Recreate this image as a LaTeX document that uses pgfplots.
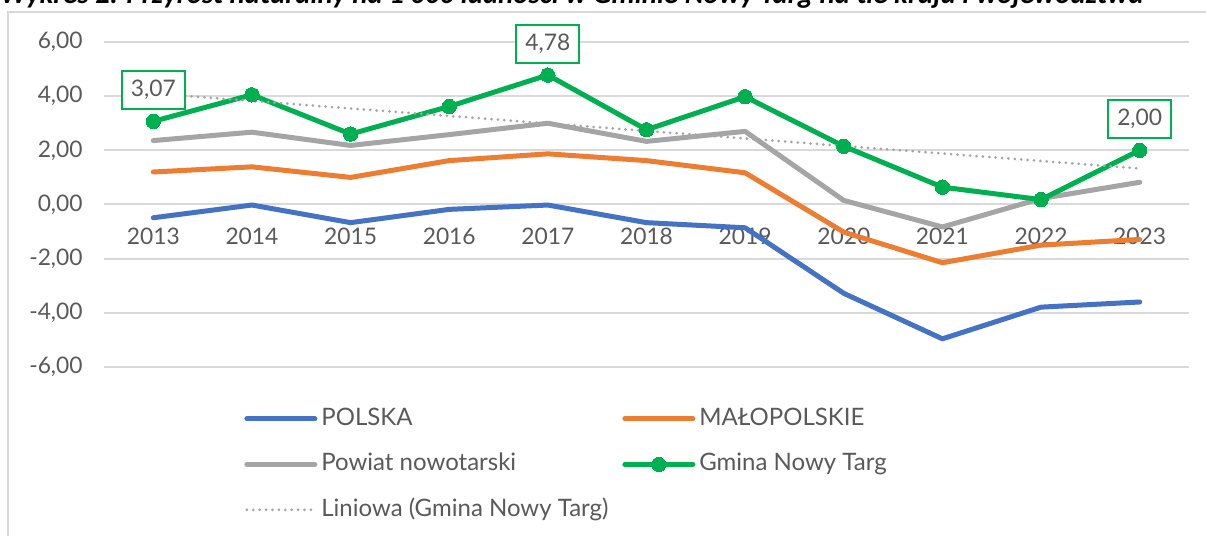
\documentclass[border=0pt]{standalone}
\usepackage{pgfplots}
\pgfplotsset{compat=1.18}
\usepackage{fontspec}
\setmainfont{Lato}
\newfontfamily\titlefont{Carlito}
\definecolor{cblue}{HTML}{4472C4}
\definecolor{corange}{HTML}{ED7D31}
\definecolor{cgray}{HTML}{A5A5A5}
\definecolor{cgreen}{HTML}{00B050}
\definecolor{gridc}{HTML}{D9D9D9}
\definecolor{txt}{HTML}{595959}
\begin{document}
\begin{tikzpicture}
\useasboundingbox (0,0) rectangle (603pt,268pt);
% title (cut off at top as in the reference)
\node[anchor=base west, inner sep=0pt, font=\titlefont\bfseries\itshape\fontsize{14.4}{16}\selectfont] at (0pt,266.4pt) {Wykres 2. Przyrost naturalny na 1 000 ludności w Gminie Nowy Targ na tle kraju i województwa};
% chart frame
\draw[gridc, line width=1pt] (4pt,0pt) -- (4pt,262pt) -- (603pt,262pt);
\begin{axis}[
  at={(52pt,84.5pt)}, anchor=south west,
  scale only axis, width=542.5pt, height=162.5pt,
  xmin=2012.5, xmax=2023.5, ymin=-6, ymax=6,
  clip=false,
  axis line style={draw=none},
  major tick length=0pt,
  ymajorgrids, grid style={gridc, line width=1pt},
  ytick={-6,-4,-2,0,2,4,6},
  /pgf/number format/fixed,
  /pgf/number format/fixed zerofill,
  /pgf/number format/precision=2,
  /pgf/number format/use comma,
  /pgf/number format/assume math mode=true,
  yticklabel style={anchor=east, inner sep=0pt, xshift=-10.5pt, font=\fontsize{11.4}{13}\selectfont, text=txt},
  xtick={2013,2014,2015,2016,2017,2018,2019,2020,2021,2022,2023},
  xticklabels={2013,2014,2015,2016,2017,2018,2019,2020,2021,2022,2023},
  xticklabel style={anchor=center, inner sep=0pt, yshift=65.5pt, font=\fontsize{11.4}{13}\selectfont, text=txt},
  legend columns=2,
  legend style={at={(0.1290,-0.1228)}, anchor=north west, draw=none, fill=none, inner sep=0pt,
    font=\fontsize{12}{14}\selectfont, text=txt, row sep=11.25pt,
    nodes={inner sep=0pt, text height=9pt, text depth=2.5pt},
    /tikz/every odd column/.append style={column sep=2pt},
    /tikz/every even column/.append style={column sep=0pt}},
  legend cell align=left,
  legend image code/.code={\draw[mark repeat=2, mark phase=2, #1] plot coordinates {(0pt,0pt)(17pt,0pt)(34pt,0pt)};},
]
\addplot[cblue, line width=2.5pt, line join=round, line cap=round] coordinates {
(2013,-0.49) (2014,-0.02) (2015,-0.67) (2016,-0.18) (2017,-0.02) (2018,-0.67) (2019,-0.86) (2020,-3.28) (2021,-4.96) (2022,-3.79) (2023,-3.60)};
\addlegendentry{\makebox[150.5pt][l]{POLSKA}}
\addplot[corange, line width=2.5pt, line join=round, line cap=round] coordinates {
(2013,1.20) (2014,1.39) (2015,1.00) (2016,1.62) (2017,1.87) (2018,1.62) (2019,1.17) (2020,-1.02) (2021,-2.15) (2022,-1.50) (2023,-1.29)};
\addlegendentry{MAŁOPOLSKIE}
\addplot[cgray, line width=2.5pt, line join=round, line cap=round] coordinates {
(2013,2.36) (2014,2.67) (2015,2.18) (2016,2.58) (2017,3.00) (2018,2.33) (2019,2.70) (2020,0.15) (2021,-0.83) (2022,0.22) (2023,0.82)};
\addlegendentry{\makebox[150.5pt][l]{Powiat nowotarski}}
\addplot[cgreen, line width=2.5pt, line join=round, line cap=round, mark=*, mark size=3.6pt, mark options={solid, fill=cgreen, line width=0pt}] coordinates {
(2013,3.07) (2014,4.05) (2015,2.60) (2016,3.62) (2017,4.78) (2018,2.76) (2019,3.98) (2020,2.15) (2021,0.64) (2022,0.18) (2023,2.00)};
\addlegendentry{Gmina Nowy Targ}
\addplot[cgray, line width=1.5pt, line cap=round, dash pattern=on 0pt off 3.2pt] coordinates {
(2013,4.10) (2023,1.33)};
\addlegendentry{\makebox[150.5pt][l]{Liniowa (Gmina Nowy Targ)}}
\addplot[draw=none, mark=none, forget plot, nodes near coords, point meta=explicit symbolic,
  nodes near coords style={anchor=center, yshift=15.75pt, draw=cgreen, line width=1pt, fill=white,
  minimum width=31.5pt, minimum height=19pt, inner sep=0pt, text=txt, font=\fontsize{11.4}{13}\selectfont}]
 coordinates {(2013,3.07) [3,07] (2017,4.78) [4,78] (2023,2.00) [2,00]};
\end{axis}
\end{tikzpicture}
\end{document}
